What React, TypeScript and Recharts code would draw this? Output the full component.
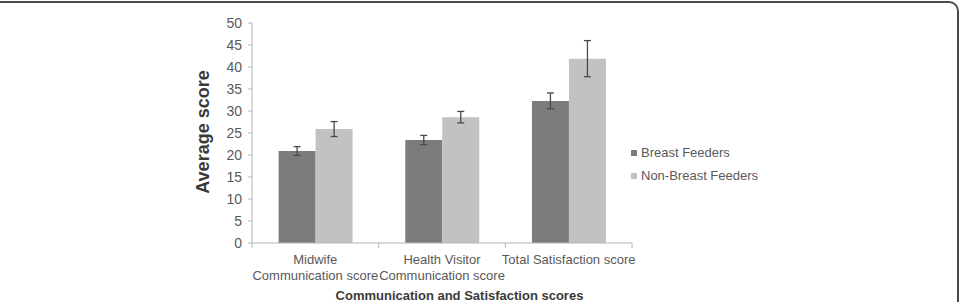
import { BarChart, Bar, XAxis, YAxis, ErrorBar, Label } from "recharts";

const FONT = "'Liberation Sans', Arial, Helvetica, sans-serif";

// categorie (a capo dove il grafico originale va a capo)
const categories = ["Midwife\nCommunication score", "Health Visitor\nCommunication score", "Total Satisfaction score"];

// medie e errori
const breastFeeders = [20.9, 23.4, 32.3];
const breastErr = [1.0, 1.05, 1.8];
const nonBreastFeeders = [25.9, 28.6, 41.9];
const nonBreastErr = [1.7, 1.3, 4.1];

const yTicks = [0, 5, 10, 15, 20, 25, 30, 35, 40, 45, 50];

const COLORS = {
  breast: "#7c7c7c",
  nonBreast: "#c2c2c2",
  axis: "#b5b5b5",
  tick: "#595959",
  title: "#3a3a3a",
  err: "#4a4a4a",
};

const series = [
  { key: "breast", name: "Breast Feeders", color: COLORS.breast },
  { key: "nonBreast", name: "Non-Breast Feeders", color: COLORS.nonBreast },
];

const data = categories.map((c, i) => ({
  label: c,
  breast: breastFeeders[i],
  breastErr: breastErr[i],
  nonBreast: nonBreastFeeders[i],
  nonBreastErr: nonBreastErr[i],
}));

const PLOT_LEFT = 252;
const PLOT_RIGHT = 632;
const BAND = (PLOT_RIGHT - PLOT_LEFT) / categories.length;

function CatTick(props: any) {
  const { x, y, payload, index } = props;
  const lines = String(payload.value).split("\n");
  return (
    <g>
      <line x1={x - BAND / 2} x2={x - BAND / 2} y1={y} y2={y + 5} stroke={COLORS.axis} />
      {index === categories.length - 1 && (
        <line x1={x + BAND / 2} x2={x + BAND / 2} y1={y} y2={y + 5} stroke={COLORS.axis} />
      )}
      {lines.map((l, i) => (
        <text key={i} x={x} y={y + 21 + i * 15.7} textAnchor="middle" fontSize={13} fill={COLORS.tick} fontFamily={FONT}>
          {l}
        </text>
      ))}
    </g>
  );
}

export default function App() {
  return (
    <div style={{ position: "absolute", left: 0, top: 0, width: 961, height: 302, overflow: "hidden", background: "#fff" }}>
      {/* moldura do figure */}
      <div
        style={{
          position: "absolute", left: -20, top: 1, width: 979, height: 340,
          boxSizing: "border-box", border: "2px solid #4a4a4a", borderRadius: 10,
        }}
      />
      <BarChart
        width={961}
        height={302}
        data={data}
        margin={{ top: 23, right: 329, bottom: 29, left: 192 }}
        barCategoryGap="21%"
        barGap={0}
        style={{ position: "absolute", left: 0, top: 0 }}
      >
        <XAxis
          dataKey="label"
          height={30}
          interval={0}
          tickLine={false}
          tickSize={0}
          tickMargin={0}
          axisLine={{ stroke: COLORS.axis }}
          tick={<CatTick />}
        >
          <Label
            content={() => (
              <text x={459.5} y={300} textAnchor="middle" fontSize={13} fontWeight="bold" fill={COLORS.title} fontFamily={FONT}>
                Communication and Satisfaction scores
              </text>
            )}
          />
        </XAxis>
        <YAxis
          width={60}
          domain={[0, 50]}
          ticks={yTicks}
          interval={0}
          tickSize={4}
          tickMargin={6}
          axisLine={{ stroke: COLORS.axis }}
          tickLine={{ stroke: COLORS.axis }}
          tick={{ fontSize: 14, fill: COLORS.tick, fontFamily: FONT }}
        >
          <Label
            content={() => (
              <text
                x={209}
                y={132}
                transform="rotate(-90, 209, 132)"
                textAnchor="middle"
                fontSize={18}
                fontWeight="bold"
                fill={COLORS.title}
                fontFamily={FONT}
              >
                Average score
              </text>
            )}
          />
        </YAxis>
        <Bar dataKey="breast" name="Breast Feeders" fill={COLORS.breast} isAnimationActive={false}>
          <ErrorBar dataKey="breastErr" width={3.5} stroke={COLORS.err} strokeWidth={1.3} isAnimationActive={false} />
        </Bar>
        <Bar dataKey="nonBreast" name="Non-Breast Feeders" fill={COLORS.nonBreast} isAnimationActive={false}>
          <ErrorBar dataKey="nonBreastErr" width={3.5} stroke={COLORS.err} strokeWidth={1.3} isAnimationActive={false} />
        </Bar>
      </BarChart>
      {/* legenda à direita, fora da área do gráfico */}
      <div style={{ position: "absolute", left: 631, top: 141, fontFamily: FONT, fontSize: 13, color: COLORS.tick }}>
        {series.map(s => (
          <div key={s.key} style={{ display: "flex", alignItems: "center", height: 23, whiteSpace: "nowrap" }}>
            <span style={{ width: 6, height: 6, background: s.color, marginRight: 4, marginTop: 1 }} />
            <span>{s.name}</span>
          </div>
        ))}
      </div>
    </div>
  );
}
